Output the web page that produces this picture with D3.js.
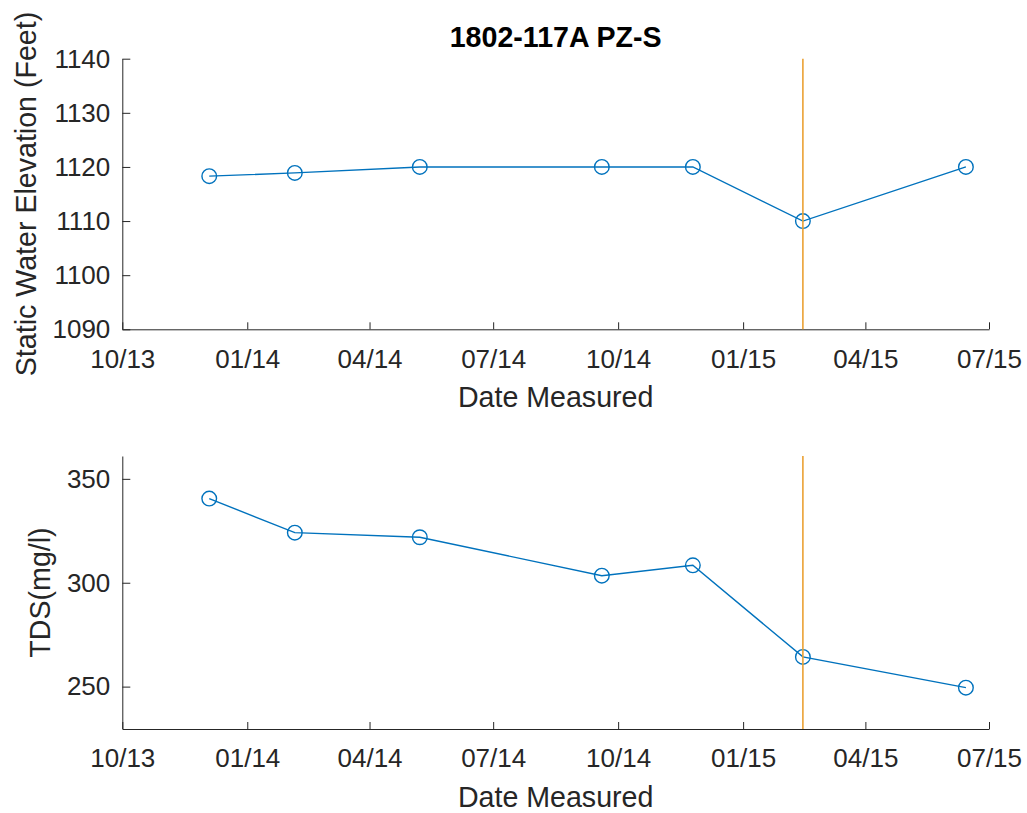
<!DOCTYPE html>
<html>
<head>
<meta charset="utf-8">
<script src="https://cdn.jsdelivr.net/npm/d3@7"></script>
<style>
  body { margin: 0; background: #fff; }
  text { font-family: "Liberation Sans", Arial, Helvetica, sans-serif; fill: #262626; }
  .axis path, .axis line { stroke: #262626; stroke-width: 1; }
  .axis text { font-size: 26px; font-family: "Liberation Sans", Arial, sans-serif; fill: #262626; }
</style>
</head>
<body>
<svg id="fig" width="1027" height="813"></svg>
<script>
var sampleDates = ["2013-12-04", "2014-02-05", "2014-05-08", "2014-09-19", "2014-11-25", "2015-02-14", "2015-06-14"];
var elevation = [1118.3, 1118.9, 1120, 1120, 1120, 1110, 1120];
var tds = [340.5, 324.1, 321.9, 303.4, 308.4, 264.3, 249.5];
var eventDate = "2015-02-14";
var xTickDates = ["2013-10-01", "2014-01-01", "2014-04-01", "2014-07-01", "2014-10-01", "2015-01-01", "2015-04-01", "2015-07-01"];
var elevTicks = [1090, 1100, 1110, 1120, 1130, 1140];
var tdsTicks = [250, 300, 350];

var parse = d3.timeParse("%Y-%m-%d");
var fmt = d3.timeFormat("%m/%y");

var svg = d3.select('#fig'),
    LEFT = 122.3, RIGHT = 989;

var xScale = d3.scaleTime()
    .domain([parse(xTickDates[0]), parse(xTickDates[xTickDates.length - 1])])
    .range([LEFT, RIGHT]);

var panels = [
  { values: elevation, domain: [1090, 1140], ticks: elevTicks, top: 58.7, bottom: 329.3,
    ylabel: "Static Water Elevation (Feet)", ylabelX: 36 },
  { values: tds, domain: [229.6, 361], ticks: tdsTicks, top: 456, bottom: 729,
    ylabel: "TDS(mg/l)", ylabelX: 50 }
];

panels.forEach(function(p) {
  var yScale = d3.scaleLinear().domain(p.domain).range([p.bottom, p.top]);

  svg.append("g")
     .attr("class", "axis")
     .attr("transform", "translate(0," + p.bottom + ")")
     .call(d3.axisBottom(xScale)
             .tickValues(xTickDates.map(parse))
             .tickFormat(fmt)
             .tickSizeInner(-7)
             .tickSizeOuter(0)
             .tickPadding(20))
     .selectAll("text").attr("dy", "0.71em");

  svg.append("g")
     .attr("class", "axis")
     .attr("transform", "translate(" + LEFT + ",0)")
     .call(d3.axisLeft(yScale)
             .tickValues(p.ticks)
             .tickFormat(d3.format("d"))
             .tickSizeInner(-8)
             .tickSizeOuter(0)
             .tickPadding(12));

  var data = sampleDates.map(function(d, i) { return { date: parse(d), v: p.values[i] }; });

  var lineGen = d3.line()
      .x(function(d) { return xScale(d.date); })
      .y(function(d) { return yScale(d.v); });

  svg.append("path")
     .attr("d", lineGen(data))
     .attr("stroke", "#0072BD")
     .attr("stroke-width", 1.4)
     .attr("fill", "none");

  svg.append("g").selectAll("circle")
     .data(data)
     .enter().append("circle")
     .attr("cx", function(d) { return xScale(d.date); })
     .attr("cy", function(d) { return yScale(d.v); })
     .attr("r", 7.3)
     .attr("fill", "none")
     .attr("stroke", "#0072BD")
     .attr("stroke-width", 1.4);

  // event marker
  svg.append("line")
     .attr("x1", xScale(parse(eventDate)))
     .attr("x2", xScale(parse(eventDate)))
     .attr("y1", yScale(p.domain[1]))
     .attr("y2", yScale(p.domain[0]))
     .attr("stroke", "#EBA133")
     .attr("stroke-width", 1.6);

  svg.append("text")
     .attr("x", (LEFT + RIGHT) / 2)
     .attr("y", p.bottom + 78)
     .attr("text-anchor", "middle")
     .style("font-size", "28.6px")
     .text("Date Measured");

  svg.append("text")
     .attr("transform", "translate(" + p.ylabelX + "," + ((p.top + p.bottom) / 2) + ") rotate(-90)")
     .attr("text-anchor", "middle")
     .style("font-size", "28.6px")
     .text(p.ylabel);
});

svg.append("text")
   .attr("x", (LEFT + RIGHT) / 2)
   .attr("y", 46.7)
   .attr("text-anchor", "middle")
   .style("font-size", "28.6px")
   .style("font-weight", "bold")
   .style("fill", "#000")
   .text("1802-117A PZ-S");
</script>
</body>
</html>
